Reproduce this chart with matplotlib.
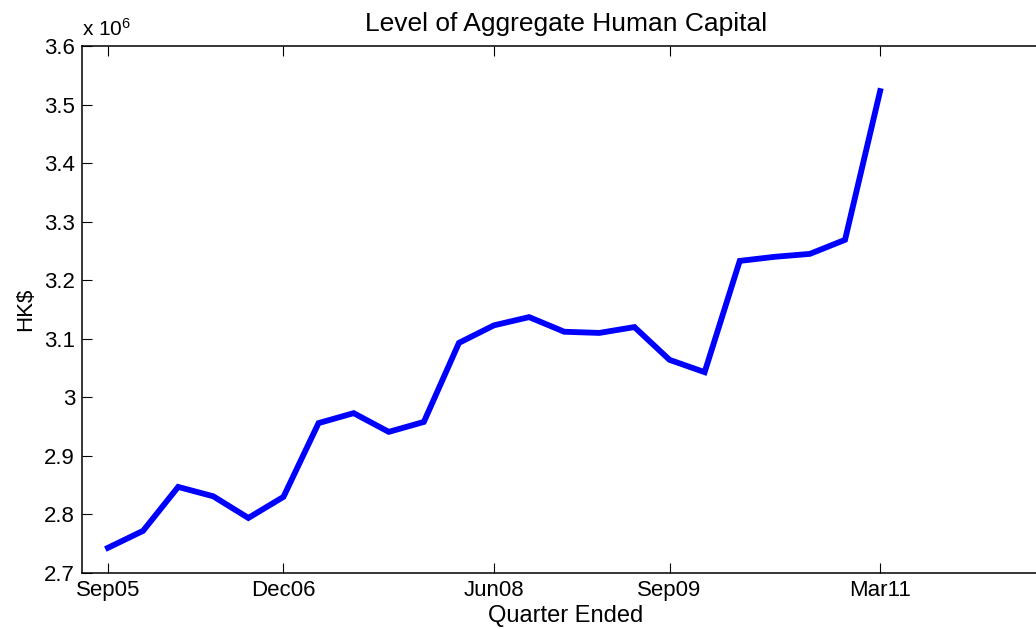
import matplotlib.pyplot as plt
from matplotlib.ticker import FormatStrFormatter

plt.rcParams['font.family'] = ['Liberation Sans', 'DejaVu Sans']
plt.rcParams['mathtext.fontset'] = 'custom'
plt.rcParams['mathtext.rm'] = 'Liberation Sans'
plt.rcParams['mathtext.it'] = 'Liberation Sans'

# quarterly series, Sep 2005 - Mar 2011
quarters = ["Sep05", "Dec05", "Mar06", "Jun06", "Sep06", "Dec06",
            "Mar07", "Jun07", "Sep07", "Dec07", "Mar08", "Jun08",
            "Sep08", "Dec08", "Mar09", "Jun09", "Sep09", "Dec09",
            "Mar10", "Jun10", "Sep10", "Dec10", "Mar11"]
# aggregate human capital, millions of HK$
capital = [2.743, 2.772, 2.847, 2.831, 2.794, 2.830,
           2.956, 2.973, 2.941, 2.958, 3.093, 3.123,
           3.137, 3.112, 3.110, 3.120, 3.064, 3.043,
           3.233, 3.240, 3.245, 3.269, 3.523]
shown_ticks = ["Sep05", "Dec06", "Jun08", "Sep09", "Mar11"]

x = list(range(len(quarters)))

fig = plt.figure(figsize=(10.36, 6.29), dpi=100)
W, H = 1036, 629
# axes box runs past the right edge of the figure
ax = fig.add_axes([82 / W, 1 - 573 / H, (1050 - 82) / W, (573 - 46) / H])

ax.plot(x, capital, color="#0000ff", linewidth=4.2, solid_joinstyle="miter")

ax.set_xlim(-0.74, 26.84)
ax.set_ylim(2.7, 3.6)
ax.set_yticks([2.7 + 0.1 * i for i in range(10)])
ax.yaxis.set_major_formatter(FormatStrFormatter("%g"))
ax.set_xticks([quarters.index(q) for q in shown_ticks])
ax.set_xticklabels(shown_ticks)

ax.tick_params(direction="in", length=7, width=0.8, labelsize=16,
               top=True, right=True, pad=5)
for s in ax.spines.values():
    s.set_linewidth(1.1)

ax.set_title("Level of Aggregate Human Capital", fontsize=19, pad=10.5)
ax.set_xlabel("Quarter Ended", fontsize=17, labelpad=3)
ax.set_ylabel("HK\\$", fontsize=16, labelpad=6)
ax.text(0.0, 1.012, "x 10$^{6}$", transform=ax.transAxes, fontsize=15,
        ha="left", va="bottom")

fig.savefig("out.png", dpi=100)
